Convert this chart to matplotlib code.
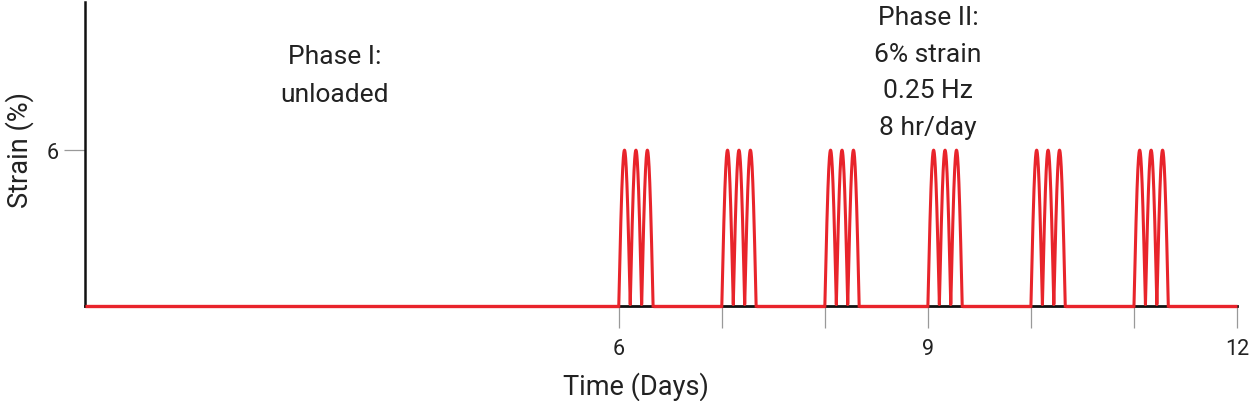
import numpy as np
import matplotlib.pyplot as plt

plt.rcParams['font.family'] = ['Roboto', 'DejaVu Sans']

# loading protocol
burst_days = [6, 7, 8, 9, 10, 11]   # day each loading bout starts
cycles_per_burst = 3                # schematic peaks drawn per bout
peak_strain = 6                     # % strain
load_hours = 8                      # hr/day

major_ticks = [6, 9, 12]
minor_ticks = [7, 8, 10, 11]

red = '#e8242b'

fig = plt.figure(figsize=(12.5, 4.02), dpi=100)
ax = fig.add_axes([0.068, 0.236, 0.9216, 0.7565])

bout = load_hours / 24.0

# baseline (red) outside bouts
edges = [0.82] + [d for b in burst_days for d in (b, b + bout)] + [12]
for i in range(0, len(edges), 2):
    ax.plot([edges[i], edges[i + 1]], [0, 0], color=red, lw=2.4,
            solid_capstyle='butt', clip_on=False, zorder=3)

# strain bouts
for b in burst_days:
    t = np.linspace(0, bout, 300)
    y = peak_strain * np.abs(np.sin(np.pi * cycles_per_burst * t / bout))
    ax.plot(b + t, y, color=red, lw=2.2, clip_on=False, zorder=4)

ax.set_xlim(0.82, 12)
ax.set_ylim(0, 11.7)

for s in ['top', 'right']:
    ax.spines[s].set_visible(False)
ax.spines['left'].set_linewidth(1.8)
ax.spines['bottom'].set_linewidth(2.0)
ax.spines['left'].set_color('#111111')
ax.spines['bottom'].set_color('#111111')

ax.set_xticks(major_ticks)
ax.set_xticklabels([str(t) for t in major_ticks])
ax.set_xticks(minor_ticks, minor=True)
ax.tick_params(axis='x', which='both', direction='out', length=16, width=0.9,
               color='#999999', labelsize=15.5, pad=7, labelcolor='#222222')
for tk in ax.xaxis.get_minor_ticks():
    if abs(tk.get_loc() - 10) < 1e-6:
        tk.tick1line.set_color('#222222')

ax.set_yticks([peak_strain])
ax.set_yticklabels([str(peak_strain)])
ax.tick_params(axis='y', direction='out', length=15, width=0.9,
               color='#999999', labelsize=15.5, pad=4, labelcolor='#222222')

ax.set_xlabel('Time (Days)', fontsize=19.5, color='#222222')
ax.xaxis.set_label_coords(0.478, -0.215)
ax.set_ylabel('Strain (%)', fontsize=19.5, color='#222222')
ax.yaxis.set_label_coords(-0.044, 0.516)

ax.text(3.24, 8.9, 'Phase I:\nunloaded', ha='center', va='center',
        fontsize=19, color='#222222', linespacing=1.72)
ax.text(9.0, 9.0, 'Phase II:\n6% strain\n0.25 Hz\n8 hr/day', ha='center',
        va='center', fontsize=19, color='#222222', linespacing=1.66,
        clip_on=False)

fig.savefig('out.png', dpi=100)
